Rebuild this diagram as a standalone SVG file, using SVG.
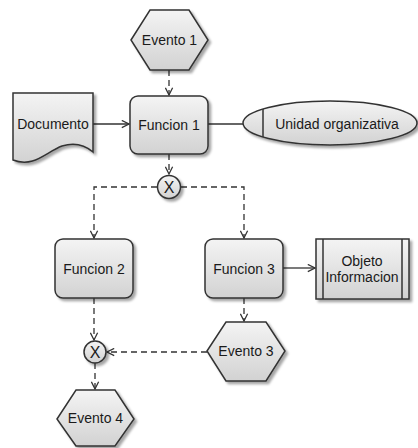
<svg xmlns="http://www.w3.org/2000/svg" width="418" height="448" viewBox="0 0 418 448">
  <defs>
    <linearGradient id="fillGrad" x1="0" y1="0" x2="0" y2="1">
      <stop offset="0" stop-color="#f4f4f4"/>
      <stop offset="1" stop-color="#d2d2d2"/>
    </linearGradient>
    <filter id="shadow" x="-20%" y="-20%" width="140%" height="140%">
      <feDropShadow dx="2.5" dy="2.5" stdDeviation="1.2" flood-color="#000" flood-opacity="0.35"/>
    </filter>
    <marker id="arrow" viewBox="0 0 10 10" refX="9" refY="5" markerWidth="9" markerHeight="9" markerUnits="userSpaceOnUse" orient="auto">
      <path d="M1,1 L9,5 L1,9" fill="none" stroke="#333" stroke-width="1.4"/>
    </marker>
  </defs>
  <style>
    .shape { fill: url(#fillGrad); stroke: #333; stroke-width: 1.5; filter: url(#shadow); }
    .label { font-family: "Liberation Sans", Arial, sans-serif; font-size: 14px; fill: #1a1a1a; text-anchor: middle; dominant-baseline: central; }
    .xor { font-family: "Liberation Sans", Arial, sans-serif; font-size: 16px; fill: #1a1a1a; text-anchor: middle; dominant-baseline: central; }
    .conn { fill: none; stroke: #333; stroke-width: 1.3; }
    .dash { stroke-dasharray: 6 4; }
    .inner { fill: none; stroke: #333; stroke-width: 1.5; }
  </style>

  <!-- connectors -->
  <g id="connectors">
    <path class="conn dash" d="M169,70 V95" marker-end="url(#arrow)"/>
    <path class="conn" d="M93,124 H129" marker-end="url(#arrow)"/>
    <path class="conn" d="M208,124 H243"/>
    <path class="conn dash" d="M169,154 V174" marker-end="url(#arrow)"/>
    <path class="conn dash" d="M157,187 H94 V238" marker-end="url(#arrow)"/>
    <path class="conn dash" d="M181,187 H244 V238" marker-end="url(#arrow)"/>
    <path class="conn" d="M283,268 H315" marker-end="url(#arrow)"/>
    <path class="conn dash" d="M244,298 V321" marker-end="url(#arrow)"/>
    <path class="conn dash" d="M94,298 V340" marker-end="url(#arrow)"/>
    <path class="conn dash" d="M207,352 H107" marker-end="url(#arrow)"/>
    <path class="conn dash" d="M95,363 V389" marker-end="url(#arrow)"/>
  </g>

  <!-- event: Evento 1 -->
  <g id="evento1">
    <polygon class="shape" points="131,40 150,10 189,10 208,40 189,70 150,70"/>
    <text class="label" x="169.5" y="40">Evento 1</text>
  </g>

  <!-- document -->
  <g id="documento">
    <path class="shape" d="M13,93 H93 V152 C86,146 75,142 62,146 C46,152 34,168 13,160 Z"/>
    <text class="label" x="53" y="124">Documento</text>
  </g>

  <!-- function: Funcion 1 -->
  <g id="funcion1">
    <rect class="shape" x="130" y="96" width="78" height="58" rx="8" ry="8"/>
    <text class="label" x="169" y="125">Funcion 1</text>
  </g>

  <!-- organizational unit -->
  <g id="unidad">
    <ellipse class="shape" cx="330" cy="123" rx="87" ry="22"/>
    <line class="inner" x1="263" y1="109" x2="263" y2="137"/>
    <text class="label" x="337" y="124">Unidad organizativa</text>
  </g>

  <!-- XOR split -->
  <g id="xor1">
    <circle class="shape" cx="169" cy="187" r="11.5"/>
    <text class="xor" x="169" y="187.5">X</text>
  </g>

  <!-- function: Funcion 2 -->
  <g id="funcion2">
    <rect class="shape" x="55" y="239" width="78" height="59" rx="8" ry="8"/>
    <text class="label" x="94" y="268.5">Funcion 2</text>
  </g>

  <!-- function: Funcion 3 -->
  <g id="funcion3">
    <rect class="shape" x="205" y="239" width="78" height="59" rx="8" ry="8"/>
    <text class="label" x="244" y="268.5">Funcion 3</text>
  </g>

  <!-- information object -->
  <g id="objeto">
    <rect class="shape" x="316" y="239" width="93" height="60"/>
    <line class="inner" x1="323" y1="239" x2="323" y2="299"/>
    <line class="inner" x1="402" y1="239" x2="402" y2="299"/>
    <text class="label" x="362" y="261">Objeto</text>
    <text class="label" x="362" y="277">Informacion</text>
  </g>

  <!-- event: Evento 3 -->
  <g id="evento3">
    <polygon class="shape" points="207,351 226,322 266,322 285,351 266,381 226,381"/>
    <text class="label" x="246" y="351">Evento 3</text>
  </g>

  <!-- XOR join -->
  <g id="xor2">
    <circle class="shape" cx="95" cy="352" r="11"/>
    <text class="xor" x="95" y="352.5">X</text>
  </g>

  <!-- event: Evento 4 -->
  <g id="evento4">
    <polygon class="shape" points="57,419 76,390 115,390 134,419 115,446 76,446"/>
    <text class="label" x="95.5" y="418">Evento 4</text>
  </g>
</svg>
